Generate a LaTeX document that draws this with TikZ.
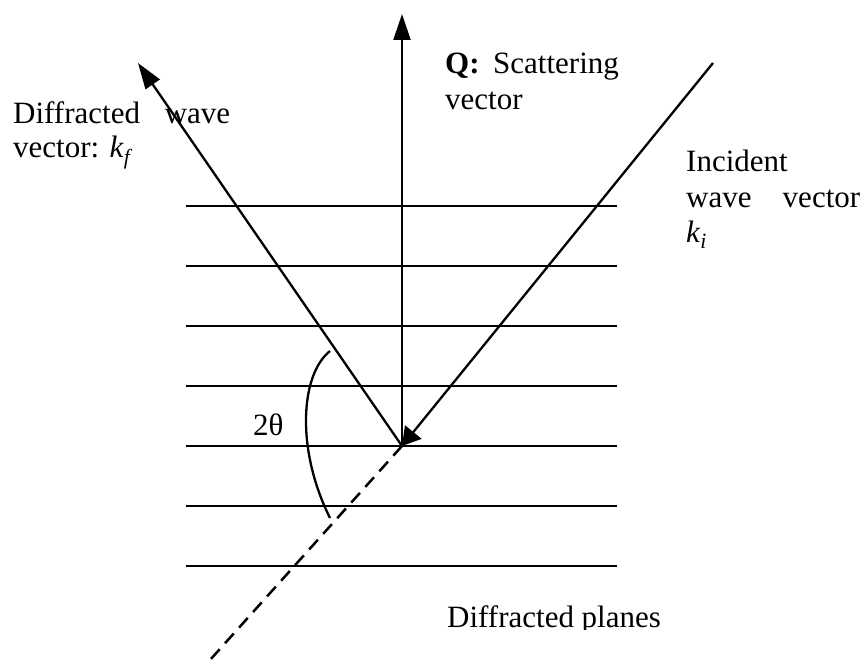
\documentclass[tikz,border=0pt]{standalone}
\usepackage{fontspec}
\setmainfont{Liberation Serif}
\usetikzlibrary{arrows.meta}
\tikzset{
  plane/.style={line width=2.3pt},
  vec/.style={line width=2.3pt},
  bigtip/.style={-{Triangle[length=26pt,width=17pt]}},
  inctip/.style={-{Triangle[length=18pt,width=21pt]}},
  lbl/.style={anchor=base west,inner sep=0pt,font=\fontsize{31}{36}\selectfont},
  anglearc/.style={line width=2.3pt},
  ext/.style={line width=2.5pt,dash pattern=on 13pt off 8pt}
}
\begin{document}
\begin{tikzpicture}[x=1pt,y=-1pt]
\fill[white] (0,0) rectangle (867,660);
\useasboundingbox (0,0) rectangle (867,660);
% planes
\foreach \i/\yy in {1/206,2/266,3/326,4/386,5/446,6/506,7/566}{
  \coordinate (pl\i) at (186,\yy);
  \coordinate (pr\i) at (617,\yy);
  \draw[plane] (pl\i) -- (pr\i);
}
% vectors
\coordinate (O) at (402,446);
\coordinate (Qtip) at (402,14);
\coordinate (Ftip) at (138,63);
\coordinate (Istart) at (713,63);
\coordinate (Dend) at (210,660);
\draw[vec,bigtip] (O) -- (Qtip);
\draw[vec,bigtip] (O) -- (Ftip);
\draw[vec,inctip] (Istart) -- (O);
\draw[ext] (O) -- (Dend);
% angle arc
\coordinate (Atop) at (330,351);
\coordinate (Abot) at (330,518);
\draw[anglearc] (Atop) .. controls (300,375) and (296,450) .. (Abot);
% labels
\node[lbl] (dw1) at (13,124) {\hbox to 217pt{Diffracted\hfill wave}};
\node[lbl] (dw2) at (13,158) {vector: \textit{k}\textsubscript{\textit{f}}};
\node[lbl] (q1) at (445,74) {\hbox to 48pt{\textbf{Q:}\hfill}Scattering};
\node[lbl] (q2) at (445,110) {vector};
\node[lbl] (i1) at (686,172) {Incident};
\node[lbl] (i2) at (686,208) {\hbox to 174pt{wave\hfill vector}};
\node[lbl] (i3) at (686,243) {\textit{k}\textsubscript{\textit{i}}};
\node[lbl] (th) at (253,435) {2θ};
\begin{scope}
\clip (0,0) rectangle (867,629);
\node[lbl] (dp) at (447,627) {Diffracted planes};
\end{scope}
\end{tikzpicture}
\end{document}
